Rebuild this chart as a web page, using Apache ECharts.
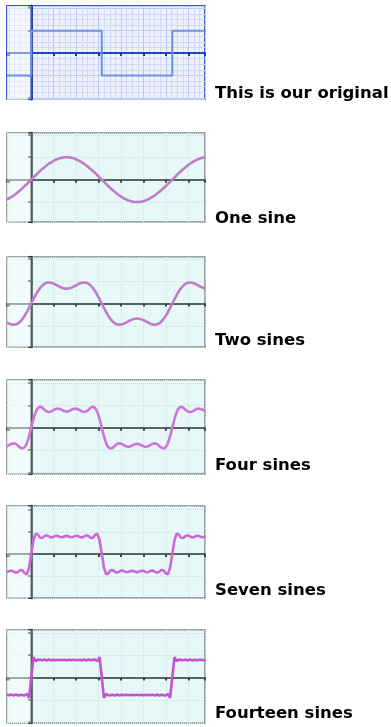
<!DOCTYPE html>
<html><head><meta charset="utf-8">
<script src="https://cdn.jsdelivr.net/npm/echarts@6/dist/echarts.min.js"></script>
<style>html,body{margin:0;padding:0;background:#fff;}#c{width:391px;height:727px;}</style>
</head><body><div id="c"></div>
<script>
// sample positions along the x axis (shared by all the sine curves)
const xValues = [-1.080,-0.982,-0.884,-0.785,-0.687,-0.589,-0.491,-0.393,-0.295,-0.196,-0.098,
0,0.098,0.196,0.295,0.393,0.491,0.589,0.687,0.785,0.884,0.982,1.080,1.178,1.276,1.374,1.473,1.571,
1.669,1.767,1.865,1.963,2.062,2.160,2.258,2.356,2.454,2.553,2.651,2.749,2.847,2.945,3.043,3.142,
3.240,3.338,3.436,3.534,3.632,3.731,3.829,3.927,4.025,4.123,4.222,4.320,4.418,4.516,4.614,4.712,
4.811,4.909,5.007,5.105,5.203,5.301,5.400,5.498,5.596,5.694,5.792,5.890,5.989,6.087,6.185,6.283,
6.381,6.480,6.578,6.676,6.774,6.872,6.970,7.069,7.167,7.265,7.363,7.461,7.560,7.658,7.756];

// the original square wave
const squareX = [-1.08, 0, 0, 3.142, 3.142, 6.283, 6.283, 7.8];
const squareY = [-1, -1, 1, 1, -1, -1, 1, 1];

const oneSine = [-.882,-.831,-.773,-.707,-.634,-.556,-.471,-.383,-.290,-.195,-.098,
0,.098,.195,.290,.383,.471,.556,.634,.707,.773,.831,.882,.924,.957,.981,.995,1,
.995,.981,.957,.924,.882,.831,.773,.707,.634,.556,.471,.383,.290,.195,.098,0,
-.098,-.195,-.290,-.383,-.471,-.556,-.634,-.707,-.773,-.831,-.882,-.924,-.957,-.981,-.995,-1,
-.995,-.981,-.957,-.924,-.882,-.831,-.773,-.707,-.634,-.556,-.471,-.383,-.290,-.195,-.098,0,
.098,.195,.290,.383,.471,.556,.634,.707,.773,.831,.882,.924,.957,.981,.995];

const twoSines = [-.849,-.896,-.930,-.943,-.928,-.883,-.803,-.691,-.548,-.380,-.195,
0,.195,.380,.548,.691,.803,.883,.928,.943,.930,.896,.849,.796,.745,.704,.676,.667,
.676,.704,.745,.796,.849,.896,.930,.943,.928,.883,.803,.691,.548,.380,.195,0,
-.195,-.380,-.548,-.691,-.803,-.883,-.928,-.943,-.930,-.896,-.849,-.796,-.745,-.704,-.676,-.667,
-.676,-.704,-.745,-.796,-.849,-.896,-.930,-.943,-.928,-.883,-.803,-.691,-.548,-.380,-.195,0,
.195,.380,.548,.691,.803,.883,.928,.943,.930,.896,.849,.796,.745,.704,.676];

const fourSines = [-.831,-.779,-.725,-.701,-.728,-.803,-.889,-.931,-.873,-.686,-.380,
0,.380,.686,.873,.931,.889,.803,.728,.701,.725,.779,.831,.851,.832,.787,.742,.724,
.742,.787,.832,.851,.831,.779,.725,.701,.728,.803,.889,.931,.873,.686,.380,0,
-.380,-.686,-.873,-.931,-.889,-.803,-.728,-.701,-.725,-.779,-.831,-.851,-.832,-.787,-.742,-.724,
-.742,-.787,-.832,-.851,-.831,-.779,-.725,-.701,-.728,-.803,-.889,-.931,-.873,-.686,-.380,0,
.380,.686,.873,.931,.889,.803,.728,.701,.725,.779,.831,.851,.832,.787,.742];

const sevenSines = [-.818,-.767,-.742,-.790,-.840,-.805,-.721,-.733,-.867,-.914,-.620,
0,.620,.914,.867,.733,.721,.805,.840,.790,.742,.767,.818,.813,.765,.752,.791,.821,
.791,.752,.765,.813,.818,.767,.742,.790,.840,.805,.721,.733,.867,.914,.620,0,
-.620,-.914,-.867,-.733,-.721,-.805,-.840,-.790,-.742,-.767,-.818,-.813,-.765,-.752,-.791,-.821,
-.791,-.752,-.765,-.813,-.818,-.767,-.742,-.790,-.840,-.805,-.721,-.733,-.867,-.914,-.620,0,
.620,.914,.867,.733,.721,.805,.840,.790,.742,.767,.818,.813,.765,.752,.791];

const fourteenSines = [-.778,-.800,-.765,-.812,-.759,-.811,-.770,-.790,-.801,-.734,-.914,
0,.914,.734,.801,.790,.770,.811,.759,.812,.765,.800,.778,.785,.792,.773,.801,.768,
.801,.773,.792,.785,.778,.800,.765,.812,.759,.811,.770,.790,.801,.734,.914,0,
-.914,-.734,-.801,-.790,-.770,-.811,-.759,-.812,-.765,-.800,-.778,-.785,-.792,-.773,-.801,-.768,
-.801,-.773,-.792,-.785,-.778,-.800,-.765,-.812,-.759,-.811,-.770,-.790,-.801,-.734,-.914,0,
.914,.734,.801,.790,.770,.811,.759,.812,.765,.800,.778,.785,.792,.773,.801];

const labels = ['This is our original', 'One sine', 'Two sines', 'Four sines', 'Seven sines', 'Fourteen sines'];

// layout (pixels) and axis extents of each panel
const X_MIN = -1.08, X_MAX = 7.74;
const panels = [
  {top: 6,   height: 93, ymin: -2.05, ymax: 2.10, labelY: 94.5},
  {top: 133, height: 89, ymin: -1.89, ymax: 2.08, labelY: 219.2},
  {top: 257, height: 90, ymin: -1.94, ymax: 2.08, labelY: 341.2},
  {top: 380, height: 94, ymin: -2.07, ymax: 2.13, labelY: 466.2},
  {top: 506, height: 92, ymin: -1.98, ymax: 2.16, labelY: 591.2},
  {top: 630, height: 93, ymin: -2.04, ymax: 2.13, labelY: 714.5}
];
const curves = [null, oneSine, twoSines, fourSines, sevenSines, fourteenSines];
const curveColors = ['#6f8fe0', '#c07cc8', '#c07cc8', '#cf74da', '#cc68d8', '#c452cf'];
const smoothFlags = [false, true, true, true, false, false];

const grids = [], xAxes = [], yAxes = [], series = [], graphics = [];
panels.forEach((p, i) => {
  const blue = i === 0;
  grids.push({
    left: 7, top: p.top, width: 198, height: p.height, show: true,
    backgroundColor: blue ? '#eef0fb' : '#e7f8f8',
    borderColor: blue ? '#3a5fd0' : '#7d8c8c', borderWidth: blue ? 2 : 1.5
  });
  xAxes.push({
    type: 'value', gridIndex: i, min: X_MIN, max: X_MAX, splitNumber: 9,
    axisLine: {onZero: true, lineStyle: {color: blue ? '#2347b8' : '#556464', width: 2}},
    axisTick: {show: true, length: 3, lineStyle: {color: blue ? '#1a3aa8' : '#3c4646', width: 2}},
    axisLabel: {show: false},
    splitLine: {show: true, lineStyle: {color: blue ? '#bccaf2' : '#cfe2e2', width: 1, type: blue ? 'solid' : 'dotted'}},
    minorTick: {show: false, splitNumber: 4},
    minorSplitLine: {show: blue, lineStyle: {color: '#d0daf6', width: 1}}
  });
  yAxes.push({
    type: 'value', gridIndex: i, min: p.ymin, max: p.ymax, splitNumber: 4,
    axisLine: {onZero: true, lineStyle: {color: blue ? '#1f40b0' : '#3f4a4a', width: blue ? 3 : 2.5}},
    axisTick: {show: true, length: 3, lineStyle: {color: blue ? '#1a3aa8' : '#2f3838', width: 2}},
    axisLabel: {show: false},
    splitLine: {show: true, lineStyle: {color: blue ? '#bccaf2' : '#cfe2e2', width: 1, type: blue ? 'solid' : 'dotted'}},
    minorTick: {show: false, splitNumber: 4},
    minorSplitLine: {show: blue, lineStyle: {color: '#d0daf6', width: 1}}
  });
  const data = blue ? squareX.map((x, k) => [x, squareY[k]]) : xValues.map((x, k) => [x, curves[i][k]]);
  series.push({
    type: 'line', xAxisIndex: i, yAxisIndex: i, data: data, showSymbol: false, symbol: 'none',
    smooth: smoothFlags[i], silent: true, z: 3,
    lineStyle: {color: curveColors[i], width: blue ? 2 : 2.6},
    markArea: {silent: true, itemStyle: {color: 'rgba(255,255,255,0.45)'}, data: [[{xAxis: X_MIN}, {xAxis: 0}]]}
  });
  graphics.push({
    type: 'text', left: 215, top: p.labelY - 9,
    style: {text: labels[i], font: 'bold 16.5px "DejaVu Sans", Verdana, sans-serif', fill: '#000'}
  });
});

const chart = echarts.init(document.getElementById('c'), null, {renderer: 'canvas'});
chart.setOption({
  animation: false,
  grid: grids, xAxis: xAxes, yAxis: yAxes, series: series, graphic: graphics
});
</script>
</body></html>
